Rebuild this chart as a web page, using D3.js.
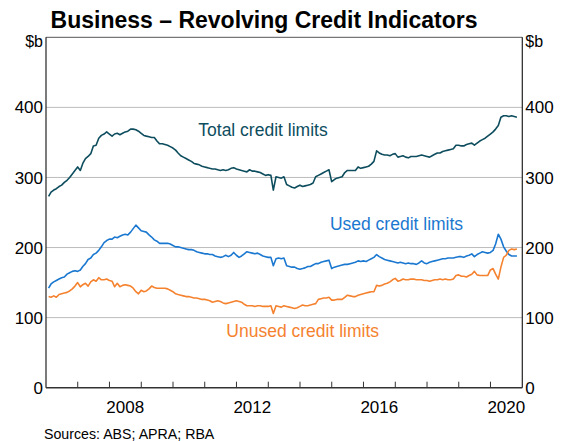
<!DOCTYPE html>
<html>
<head>
<meta charset="utf-8">
<script src="https://cdn.jsdelivr.net/npm/d3@7"></script>
<style>
  body { margin: 0; background: white; }
  text { font-family: "Liberation Sans", Arial, sans-serif; }
</style>
</head>
<body>
<div id="chart"></div>
<script>
// monthly data, Jan 2006 to Oct 2020, $b
const firstYear = 2006;

const totalLimits = [
  273, 279, 282, 284, 287, 289, 293, 296, 300, 305, 310, 315,
  310, 320, 327, 330, 334, 345, 346, 356, 360, 362, 365, 362,
  359, 362, 363, 361, 363, 365, 366, 369, 369, 368, 366, 363,
  360, 359, 358, 357, 357, 352, 348, 348, 347, 346, 344, 342,
  339, 335, 331, 329, 327, 325, 323, 320, 319, 318, 316, 315,
  314, 313, 312, 312, 311, 310, 311, 310, 311, 313, 314, 312,
  311, 310, 309, 308, 311, 309, 309, 308, 307, 305, 303, 304,
  303, 282, 301, 300, 299, 301, 290, 288, 286, 285, 287, 289,
  287, 288, 289, 290, 292, 301, 303, 305, 307, 309, 311, 294,
  297, 299, 300, 301, 307, 310, 310, 310, 310, 315, 313, 314,
  315, 316, 319, 323, 338, 335, 333, 332, 332, 331, 333, 334,
  329, 330, 331, 329, 328, 330, 330, 330, 331, 332, 331, 330,
  329, 331, 333, 335, 335, 337, 338, 339, 340, 341, 346, 346,
  345, 345, 347, 348, 349, 346, 349, 352, 354, 356, 359, 362,
  365, 369, 374, 386, 388, 388, 387, 388, 387, 386
];

const usedLimits = [
  142, 148, 151, 153, 155, 157, 158, 162, 164, 166, 167, 166,
  168, 173, 177, 183, 185, 190, 192, 196, 201, 207, 210, 212,
  212, 215, 214, 216, 218, 219, 218, 222, 227, 232, 228, 224,
  223, 222, 218, 215, 211, 209, 206, 206, 206, 206, 205, 203,
  201, 201, 200, 199, 198, 197, 197, 196, 194, 193, 192, 191,
  191, 190, 190, 188, 187, 186, 187, 189, 187, 189, 193, 189,
  186, 188, 191, 194, 193, 192, 191, 192, 190, 188, 187, 186,
  186, 174, 184, 185, 184, 185, 174, 173, 172, 172, 170, 169,
  170, 171, 173, 173, 175, 177, 177, 179, 180, 181, 182, 170,
  172, 173, 174, 175, 176, 176, 177, 178, 179, 181, 180, 181,
  180, 182, 184, 186, 190, 187, 185, 183, 182, 181, 180, 179,
  178, 179, 178, 177, 178, 177, 177, 176, 178, 181, 178, 177,
  179, 180, 181, 182, 183, 184, 184, 185, 185, 185, 186, 187,
  187, 186, 188, 189, 191, 187, 190, 192, 194, 193, 192, 193,
  196, 205, 219, 212, 201, 195, 190, 188, 188, 188
];

const unusedLimits = [
  130, 129, 131, 129, 133, 134, 135, 136, 138, 141, 145, 150,
  144, 147, 149, 145, 151, 154, 152, 157, 154, 154, 155, 153,
  152, 144, 149, 144, 146, 147, 146, 145, 142, 137, 134, 139,
  137, 138, 141, 145, 143, 142, 142, 142, 142, 141, 139, 137,
  134, 133, 132, 131, 130, 130, 129, 128, 128, 127, 126, 126,
  125, 124, 122, 123, 124, 123, 121, 120, 121, 122, 123, 124,
  123, 122, 119, 117, 117, 117, 116, 117, 117, 116, 116, 116,
  117, 106, 117, 116, 115, 117, 116, 115, 114, 113, 114, 116,
  118, 117, 117, 118, 119, 120, 126, 127, 128, 128, 129, 125,
  125, 126, 126, 126, 129, 132, 131, 130, 130, 132, 133, 134,
  135, 136, 137, 137, 146, 145, 146, 148, 149, 151, 154, 156,
  152, 153, 155, 154, 154, 155, 155, 154, 154, 154, 153, 153,
  152, 153, 154, 154, 155, 154, 155, 154, 154, 155, 160, 161,
  159, 159, 158, 160, 162, 166, 161, 160, 160, 160, 160, 168,
  170, 162, 155, 172, 186, 189, 196, 198, 197, 198
];

const yTicks = [0, 100, 200, 300, 400];
const yearLabels = [2008, 2012, 2016, 2020];

let margin = {top: 37.3, left: 46, right: 39.7, bottom: 53.3},
  width = 562 - margin.left - margin.right,
  height = 441 - margin.top - margin.bottom;

let svg = d3.select('#chart')
  .append('svg')
  .attr('width', 562)
  .attr('height', 441)
  .style('background-color', 'white');

let g = svg.append('g')
  .attr('transform', 'translate(' + margin.left + ',' + margin.top + ')');

// month i is plotted at the end of that month
let monthDate = i => new Date(firstYear, i + 1, 0);

let x = d3.scaleTime()
  .domain([new Date(firstYear, 0, 1), new Date(2021, 0, 1)])
  .range([0, width]);
let y = d3.scaleLinear().domain([0, 500]).range([height, 0]);

// gridlines
g.selectAll('.grid')
  .data(yTicks.filter(d => d > 0))
  .enter().append('line')
  .attr('class', 'grid')
  .attr('x1', 0).attr('x2', width)
  .attr('y1', d => y(d)).attr('y2', d => y(d))
  .attr('stroke', '#bcbcbc')
  .attr('stroke-width', 1);

// frame
g.append('line').attr('x1', 0).attr('x2', width).attr('y1', 0).attr('y2', 0)
  .attr('stroke', '#555').attr('stroke-width', 1);
g.append('line').attr('x1', 0).attr('x2', 0).attr('y1', 0).attr('y2', height)
  .attr('stroke', '#222').attr('stroke-width', 1.2);
g.append('line').attr('x1', width).attr('x2', width).attr('y1', 0).attr('y2', height)
  .attr('stroke', '#222').attr('stroke-width', 1.2);

// x axis: ticks at year starts, labels mid-year
let yearTicks = d3.timeYear.range(new Date(firstYear + 1, 0, 1), new Date(2021, 0, 1));
g.selectAll('.xtick')
  .data(yearTicks)
  .enter().append('line')
  .attr('x1', d => x(d)).attr('x2', d => x(d))
  .attr('y1', height).attr('y2', height - 6)
  .attr('stroke', '#333').attr('stroke-width', 1);
g.append('line').attr('x1', 0).attr('x2', width).attr('y1', height).attr('y2', height)
  .attr('stroke', '#333').attr('stroke-width', 1.5);

g.selectAll('.xlabel')
  .data(yearLabels)
  .enter().append('text')
  .attr('x', d => x(new Date(d, 6, 1)))
  .attr('y', height + 25.5)
  .attr('text-anchor', 'middle')
  .attr('font-size', 17)
  .text(d => d);

// y labels both sides
[{side: 'left', xp: -3, anchor: 'end'}, {side: 'right', xp: width + 3, anchor: 'start'}].forEach(s => {
  g.selectAll('.ylabel-' + s.side)
    .data(yTicks)
    .enter().append('text')
    .attr('x', s.xp)
    .attr('y', d => y(d))
    .attr('dy', '0.36em')
    .attr('text-anchor', s.anchor)
    .attr('font-size', 17)
    .text(d => d);
  g.append('text')
    .attr('x', s.xp)
    .attr('y', y(500) + 4)
    .attr('dy', '0.36em')
    .attr('text-anchor', s.anchor)
    .attr('font-size', 16)
    .text('$b');
});

// lines
let series = [
  {values: totalLimits, color: '#0d4d5e'},
  {values: usedLimits, color: '#1b78d0'},
  {values: unusedLimits, color: '#f5822f'}
];
let line = d3.line()
  .x((d, i) => x(monthDate(i)))
  .y(d => y(d));
series.forEach(s => {
  g.append('path')
    .datum(s.values)
    .attr('fill', 'none')
    .attr('stroke', s.color)
    .attr('stroke-width', 1.6)
    .attr('stroke-linejoin', 'round')
    .attr('d', line);
});

// series labels
let seriesLabels = [
  {text: 'Total credit limits', date: new Date(2012, 10, 1), value: 359, color: '#0d4d5e'},
  {text: 'Used credit limits', date: new Date(2017, 0, 15), value: 225, color: '#1b78d0'},
  {text: 'Unused credit limits', date: new Date(2014, 1, 1), value: 72, color: '#f5822f'}
];
g.selectAll('.slabel')
  .data(seriesLabels)
  .enter().append('text')
  .attr('x', d => x(d.date))
  .attr('y', d => y(d.value))
  .attr('text-anchor', 'middle')
  .attr('font-size', 17.5)
  .attr('fill', d => d.color)
  .text(d => d.text);

// title and source
svg.append('text')
  .attr('x', 264)
  .attr('y', 28)
  .attr('text-anchor', 'middle')
  .attr('font-size', 23)
  .attr('font-weight', 'bold')
  .text('Business – Revolving Credit Indicators');

svg.append('text')
  .attr('x', 44)
  .attr('y', 439)
  .attr('font-size', 14.2)
  .text('Sources: ABS; APRA; RBA');
</script>
</body>
</html>
